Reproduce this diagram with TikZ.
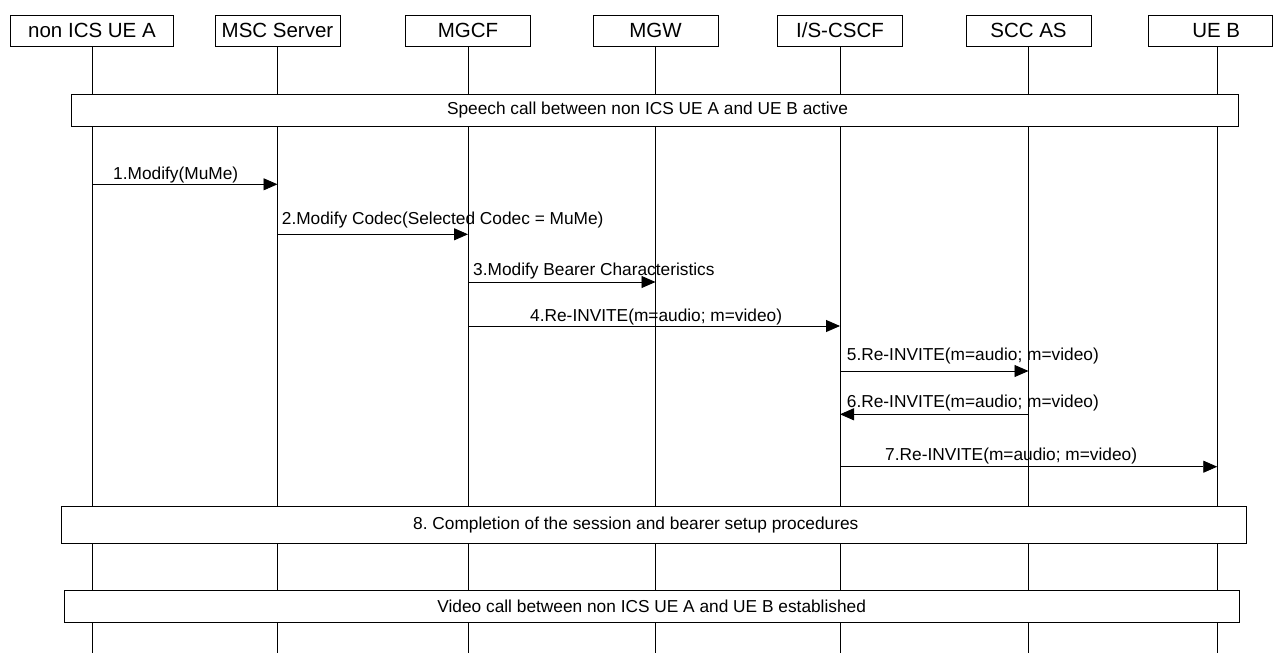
\documentclass[tikz,border=0pt]{standalone}
\usepackage{fontspec}
\setmainfont{Liberation Sans}
\usetikzlibrary{arrows.meta}
\frenchspacing
\begin{document}
\begin{tikzpicture}[x=1pt,y=-1pt,
 hdr/.style={draw, fill=white, line width=0.9pt, minimum height=31pt, minimum width=125pt, inner sep=0pt, font=\fontsize{20.5}{24}\selectfont},
 life/.style={line width=0.9pt},
 msg/.style={line width=0.9pt, -{Triangle[length=14pt,width=12pt]}},
 lbl/.style={anchor=base west, inner sep=0pt, font=\fontsize{17.3}{20}\selectfont},
 band/.style={draw, fill=white, line width=0.9pt, inner sep=0pt, font=\fontsize{17.3}{20}\selectfont}]
\useasboundingbox (0,0) rectangle (1273,653);

% headers
\node[hdr, minimum width=163pt] (A) at (92,30.5) {non ICS UE A};
\node[hdr] (MSC) at (277.5,30.5) {MSC Server};
\node[hdr] (MGCF) at (468,30.5) {MGCF};
\node[hdr] (MGW) at (655.5,30.5) {MGW};
\node[hdr] (CSCF) at (840,30.5) {I/S-CSCF};
\node[hdr] (SCC) at (1028.5,30.5) {SCC AS};
\node[hdr, minimum width=124.5pt] (B) at (1210.25,30.5) {\hspace*{12pt}UE B};
\coordinate (Bl) at ([xshift=7pt]B.south);

% lifelines
\foreach \n in {A,MSC,MGCF,MGW,CSCF,SCC,Bl}
  \draw[life] (\n.south) -- (\n.south |- 0,653);

% bands
\node[band, minimum width=1167pt, minimum height=32pt] (speech) at (654.5,110) {Speech call between non ICS UE A and UE B active\hspace*{14pt}};
\node[band, minimum width=1185.7pt, minimum height=36.6pt] (compl) at (653.8,525) {8. Completion of the session and bearer setup procedures\hspace*{36pt}};
\node[band, minimum width=1174.7pt, minimum height=31.6pt] (video) at (651.7,606.5) {Video call between non ICS UE A and UE B established};

% messages
\draw[msg] (A.south |- 0,184.3) -- (MSC.south |- 0,184.3);
\node[lbl] (m1) at (113,179) {1.Modify(MuMe)};

\draw[msg] (MSC.south |- 0,234.3) -- (MGCF.south |- 0,234.3);
\node[lbl] (m2) at (281.7,224.3) {2.Modify Codec(Selected Codec = MuMe)};

\draw[msg] (MGCF.south |- 0,282) -- (MGW.south |- 0,282);
\node[lbl] (m3) at (473,275) {3.Modify Bearer Characteristics};

\draw[msg] (MGCF.south |- 0,326) -- (CSCF.south |- 0,326);
\node[lbl] (m4) at (530,321) {4.Re-INVITE(m=audio; m=video)};

\draw[msg] (CSCF.south |- 0,371) -- (SCC.south |- 0,371);
\node[lbl] (m5) at (846.7,360.7) {5.Re-INVITE(m=audio; m=video)};

\draw[msg] (SCC.south |- 0,414.3) -- (CSCF.south |- 0,414.3);
\node[lbl] (m6) at (846.7,407) {6.Re-INVITE(m=audio; m=video)};

\draw[msg] (CSCF.south |- 0,466.7) -- (Bl |- 0,466.7);
\node[lbl] (m7) at (885,460.7) {7.Re-INVITE(m=audio; m=video)};
\end{tikzpicture}
\end{document}
